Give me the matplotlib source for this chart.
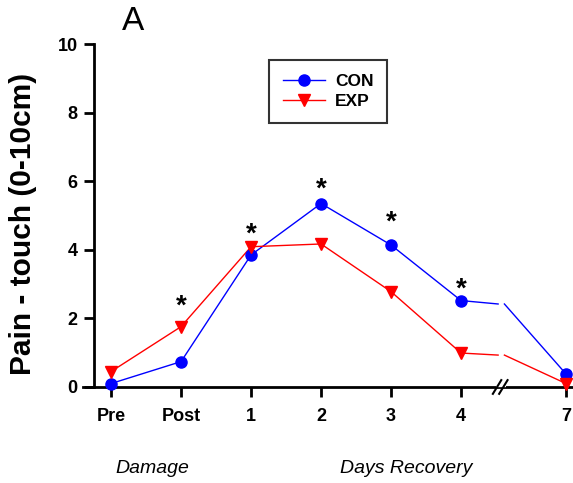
import matplotlib.pyplot as plt
from matplotlib import font_manager

# tick categories and their positions on the broken axis (7 sits past the break)
tick_labels = ['Pre', 'Post', '1', '2', '3', '4', '7']
tick_pos = [0, 1, 2, 3, 4, 5, 6.5]

con = [0.10, 0.74, 3.85, 5.35, 4.14, 2.52, 0.38]
exp = [0.45, 1.76, 4.09, 4.17, 2.78, 0.99, 0.10]

# values where the lines meet the axis break
break_left, break_right = 5.53, 5.62
con_break = 2.42
exp_break = 0.93

# significance stars (index, height)
star_idx = [1, 2, 3, 4, 5]
star_y = [2.35, 4.45, 5.75, 4.8, 2.85]

names = [f.name for f in font_manager.fontManager.ttflist]
narrow = 'Liberation Sans Narrow' if 'Liberation Sans Narrow' in names else 'Liberation Sans'
plt.rcParams['font.family'] = ['Liberation Sans', 'DejaVu Sans']

fig = plt.figure(figsize=(5.73, 4.83), dpi=100)
ax = fig.add_axes([0.145, 0.1988, 0.855, 0.710])

blue = '#0000ff'
red = '#ff0000'

for vals, brk, col, mk, ms, lab in [(con, con_break, blue, 'o', 8, 'CON'),
                                    (exp, exp_break, red, 'v', 9, 'EXP')]:
    xs_l = tick_pos[:6] + [break_left]
    ys_l = vals[:6] + [brk]
    ax.plot(xs_l, ys_l, color=col, lw=1, clip_on=False)
    ax.plot([break_right, tick_pos[6]], [brk, vals[6]], color=col, lw=1, clip_on=False)
    ax.plot(tick_pos, vals, ls='none', marker=mk, ms=ms, color=col,
            clip_on=False, zorder=5)
    ax.plot([], [], color=col, lw=1, marker=mk, ms=ms, label=lab)

for i, y in zip(star_idx, star_y):
    ax.text(tick_pos[i], y, '*', ha='center', va='center', fontsize=20,
            fontweight='bold')

ax.set_xlim(-0.4, 6.6)
ax.set_ylim(0, 10)
ax.spines['left'].set_position(('data', -0.24))
ax.spines['left'].set_bounds(0, 10)
for s in ['top', 'right']:
    ax.spines[s].set_visible(False)
for s in ['left', 'bottom']:
    ax.spines[s].set_linewidth(2)

ax.set_xticks(tick_pos)
ax.set_xticklabels(tick_labels, family=narrow, fontweight='bold', fontsize=13)
ax.set_yticks(range(0, 11, 2))
ax.set_yticklabels([str(v) for v in range(0, 11, 2)], family=narrow,
                   fontweight='bold', fontsize=13)
ax.tick_params(direction='out', width=2, length=7)
ax.tick_params(axis='x', pad=8)
ax.tick_params(axis='y', pad=5)

# axis break marks
mid = (break_left + break_right) / 2
ax.plot([mid - 0.07, mid + 0.07], [0.12, 0.12], color='white', lw=6,
        clip_on=False, zorder=6, solid_capstyle='butt')
for dx in (-0.06, 0.03):
    ax.plot([mid + dx - 0.06, mid + dx + 0.06], [-0.2, 0.2], color='black',
            lw=1.5, clip_on=False, zorder=7)

ax.set_ylabel('Pain - touch (0-10cm)', fontsize=21.5, fontweight='bold')
ax.yaxis.set_label_coords(-0.095, 0.474)

fig.text(0.232, 0.955, 'A', fontsize=24, ha='center', va='center')
fig.text(0.265, 0.031, 'Damage', fontsize=14, style='italic', ha='center', va='center')
fig.text(0.709, 0.031, 'Days Recovery', fontsize=14, style='italic', ha='center', va='center')

leg = ax.legend(loc='upper left', bbox_to_anchor=(0.362, 0.98), frameon=True,
                fancybox=False, edgecolor='black', handlelength=2.4,
                handletextpad=0.6, borderpad=0.8, labelspacing=0.3,
                prop={'size': 12.5, 'weight': 'bold'})
leg.get_frame().set_linewidth(1.5)

fig.savefig('out.png', dpi=100)
